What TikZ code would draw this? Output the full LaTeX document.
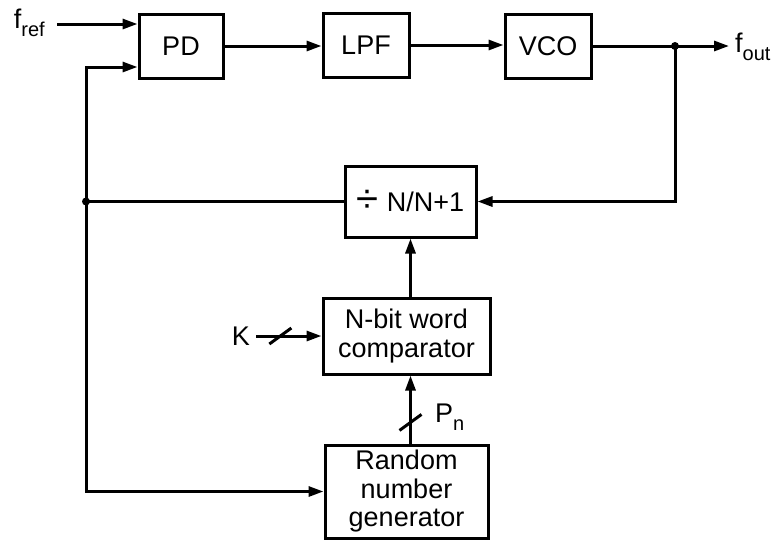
\documentclass[tikz,border=0pt]{standalone}
\usepackage{fontspec}
\setmainfont{Liberation Sans}
\usetikzlibrary{arrows.meta, calc, positioning}

\newcommand{\lowsub}[1]{\raisebox{-0.32em}{\fontsize{20}{20}\selectfont #1}}

\begin{document}
\begin{tikzpicture}[
  font=\fontsize{27}{28.5}\selectfont,
  block/.style={rectangle, draw, line width=3pt, align=center, inner sep=2pt},
  flow/.style={-{Triangle[length=15pt, width=10pt]}, line width=3pt},
  wire/.style={line width=3pt},
  lbl/.style={inner xsep=6pt, inner ysep=0pt},
  x=1pt, y=-1pt,
]
\useasboundingbox (0,0) rectangle (773,539);

\node[block, minimum width=84pt, minimum height=64pt] at (181,46) (pd)  {PD};
\node[block, minimum width=86pt, minimum height=64pt] at (366,45) (lpf) {LPF};
\node[block, minimum width=86pt, minimum height=64pt] at (548,46) (vco) {VCO};

\node[block, minimum width=131pt, minimum height=71pt] at (410.5,201.5) (div)
  {\raisebox{-0.05em}{\fontsize{40}{40}\selectfont ÷}\hspace{0.3em}N/N+1};
\node[block, minimum width=167pt, minimum height=76pt] at (406.5,336) (cmp) {N-bit word\\comparator};
\node[block, minimum width=163pt, minimum height=93pt] at (406.5,491.5) (rng) {Random\\number\\generator};

\node[lbl, inner xsep=12pt, anchor=base east] at (57,28) (fref) {f\lowsub{ref}};
\node[lbl, anchor=base west] at (729,52) (fout) {f\lowsub{out}};
\node[lbl] at (241,336) (k) {K};
\node[lbl, anchor=base west] at (429,422) (pn) {P\lowsub{n}};

\coordinate (refin) at ($(pd.west)+(0,-22)$);
\coordinate (fbin)  at ($(pd.west)+(0,21)$);
\coordinate (tapr)  at (675,46);
\coordinate (tapl)  at (86,201.5);

% forward path
\draw[flow] (fref.east |- refin) -- (refin);
\draw[flow] (pd) -- (pd -| lpf.west);
\draw[flow] (lpf) -- (lpf -| vco.west);
\draw[flow] (vco) -- (vco -| fout.west);

% divider loop
\draw[flow] (tapr) |- (div.east);
\draw[wire] (div.west) -- (tapl);
\draw[flow] (tapl) |- (fbin);
\draw[flow] (tapl) |- (rng.west);
\fill (tapr) circle (4);
\fill (tapl) circle (4);

% modulus control
\draw[flow] (cmp.north -| div.south) -- (div.south);
\draw[flow] (rng.north -| div.south) -- (cmp.south -| div.south);
\draw[flow] (k.east) -- (cmp.west);
\draw[wire] ($(k.east)!0.37!(cmp.west)$) +(-11,8) -- +(11,-8);
\draw[wire] ($(rng.north -| div.south)!0.31!(cmp.south -| div.south)$) +(-11,8) -- +(11,-8);

\end{tikzpicture}
\end{document}
